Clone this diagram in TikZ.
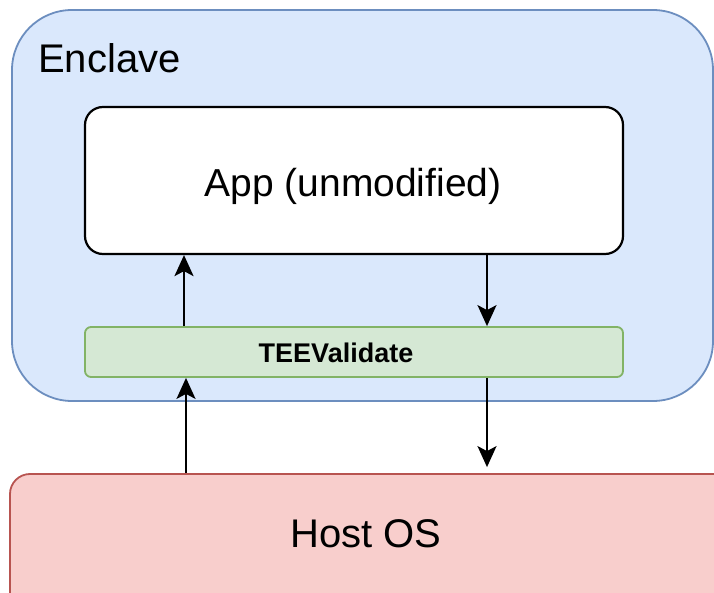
\documentclass[tikz,border=0pt]{standalone}
\usepackage{fontspec}
\setmainfont{Liberation Sans}
\usetikzlibrary{arrows.meta}

\definecolor{enclfill}{HTML}{DAE8FC}
\definecolor{enclline}{HTML}{6C8EBF}
\definecolor{teefill}{HTML}{D5E8D4}
\definecolor{teeline}{HTML}{82B366}
\definecolor{hostfill}{HTML}{F8CECC}
\definecolor{hostline}{HTML}{B85450}

\tikzset{
  box/.style={rectangle, inner sep=0pt, anchor=center},
  arr/.style={line width=2.2pt, -{Stealth[length=21pt, width=19pt, inset=5pt]}},
}

\begin{document}
\begin{tikzpicture}[x=1pt, y=-1pt]
  \useasboundingbox (0,0) rectangle (714,593);
  \fill[white] (0,0) rectangle (714,593);
  \begin{scope}
    \clip (0,0) rectangle (714,593);

    % enclave container
    \node[box, draw=enclline, fill=enclfill, line width=1.8pt, rounded corners=60pt,
          minimum width=701pt, minimum height=391pt] (encl) at (362.5,205.5) {};
    \node[anchor=base west, font=\fontsize{40}{48}\selectfont, inner sep=0pt]
          (encltext) at (38,73) {Enclave};

    % application
    \node[box, draw=black, fill=white, line width=2.2pt, rounded corners=18pt,
          minimum width=538pt, minimum height=147pt] (app) at (354,180.5) {};
    \node[font=\fontsize{39}{47}\selectfont, inner sep=0pt]
          (apptext) at (353,186) {App (unmodified)};

    % validation layer
    \node[box, draw=teeline, fill=teefill, line width=1.8pt, rounded corners=6pt,
          minimum width=538pt, minimum height=50pt] (tee) at (354,352) {};
    \node[font=\bfseries\fontsize{27}{32}\selectfont, inner sep=0pt]
          (teetext) at (336,353) {TEEValidate};

    % host operating system
    \node[box, draw=hostline, fill=hostfill, line width=1.8pt, rounded corners=20pt,
          minimum width=730pt, minimum height=146pt] (host) at (375,547) {};
    \node[font=\fontsize{40}{48}\selectfont, inner sep=0pt]
          (hosttext) at (366,534) {Host OS};

    % calls between the layers
    \draw[arr] ([xshift=-170pt]tee.north) -- ([xshift=-170pt]app.south);
    \draw[arr] ([xshift=133pt]app.south) -- ([xshift=133pt]tee.north);
    \draw[arr] ([xshift=-189pt]host.north) -- ([xshift=-168pt]tee.south);
    \draw[arr] ([xshift=133pt]tee.south) -- ([xshift=112pt, yshift=6pt]host.north);
  \end{scope}
\end{tikzpicture}
\end{document}
